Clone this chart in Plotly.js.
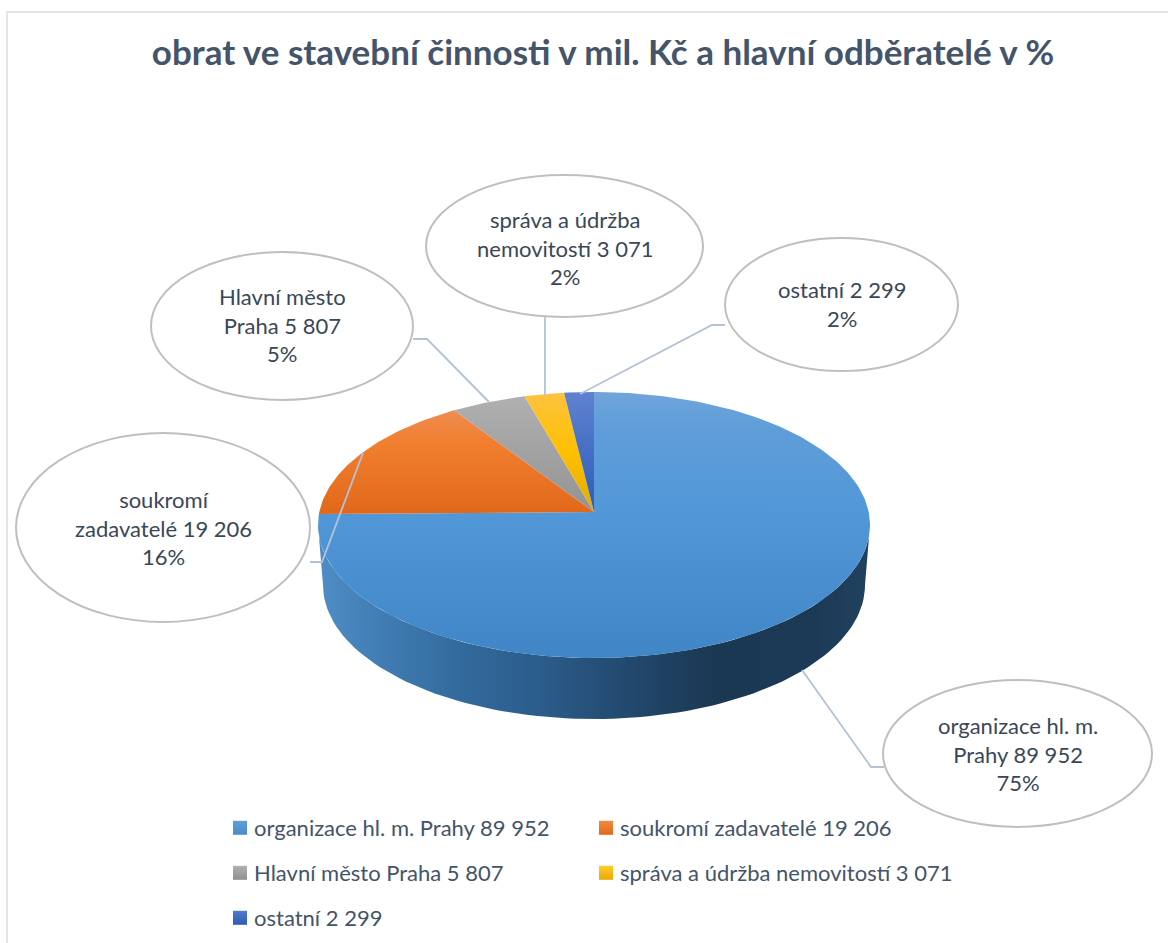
<!DOCTYPE html>
<html lang="cs">
<head>
<meta charset="utf-8">
<script src="https://cdn.plot.ly/plotly-3.0.1.min.js"></script>
<style>html,body{margin:0;padding:0;background:#fff}</style>
</head>
<body>
<div id="chart" style="width:1168px;height:943px"></div>
<script>
// ---- data ----
const categories = ['organizace hl. m. Prahy', 'soukromí zadavatelé', 'Hlavní město Praha', 'správa a údržba nemovitostí', 'ostatní'];
const values = [89952, 19206, 5807, 3071, 2299];
const valueLabels = ['89 952', '19 206', '5 807', '3 071', '2 299'];
const shareLabels = ['75%', '16%', '5%', '2%', '2%'];
const calloutLines = [
  ['organizace hl. m.', 'Prahy 89 952'],
  ['soukromí', 'zadavatelé 19 206'],
  ['Hlavní město', 'Praha 5 807'],
  ['správa a údržba', 'nemovitostí 3 071'],
  ['ostatní 2 299']
];
const titleText = 'obrat ve stavební činnosti v mil. Kč a hlavní odběratelé v %';

// ---- styling and layout geometry ----
const sliceScales = [
  [[0, '#4085c5'], [0.55, '#5298d8'], [0.86, '#5f9dd9'], [1, '#70a5db']],
  [[0, '#e1681a'], [0.7, '#f27f30'], [1, '#ee8c52']],
  [[0, '#939393'], [1, '#b0b0b0']],
  [[0, '#e0a80a'], [0.5, '#ffc000'], [1, '#fdc33f']],
  [[0, '#2b5cb8'], [1, '#5f82d0']]
];
const legendColors = [['#5fa0dc', '#4a8bc6'], ['#f38a3e', '#e2681a'], ['#b0b0b0', '#8f8f8f'], ['#ffcb2d', '#eba800'], ['#5279cc', '#2d5cb4']];
const sideScale = [[0, '#4f8dc6'], [0.1, '#427fb5'], [0.25, '#336b9e'], [0.42, '#2a5a88'], [0.55, '#234a6f'], [0.72, '#1a3852'], [0.9, '#1c3a56'], [1, '#21425f']];
const face = {cx: 594, cy: 525, rx: 276, ry: 133, apexLift: 13};
const base = {cx: 594, cy: 585, rx: 271, ry: 134};
const callouts = [
  {x0: 883, x1: 1152, y0: 680, y1: 827, leader: [[802, 670], [871, 767], [884, 767]], ty: 754},
  {x0: 16, x1: 310, y0: 433, y1: 622, leader: [[363, 453], [322, 562], [310, 562]], ty: 528},
  {x0: 151, x1: 413, y0: 252, y1: 400, leader: [[489, 402], [427, 339], [413, 339]], ty: 325},
  {x0: 426, x1: 703, y0: 175, y1: 317, leader: [[545, 396], [545, 317]], ty: 248},
  {x0: 725, x1: 958, y0: 238, y1: 371, leader: [[580, 394], [712, 325], [725, 325]], ty: 304}
];
const legendSpots = [[214, 828], [580, 828], [214, 873], [580, 873], [214, 918]];
const textColor = '#44546a';
const labelColor = '#3a4759';
const fontFamily = 'Lato, "Open Sans", sans-serif';

// ---- slice outlines come from the values: the pie circle is projected onto the tilted face ----
const total = values.reduce((a, b) => a + b, 0);
const p = face.apexLift / face.ry, shrink = Math.sqrt(1 - p * p);
function rimPoint(theta) {
  const u = Math.sin(theta), v = Math.cos(theta), d = 1 + p * v;
  return [face.cx + face.rx * u * shrink / d, face.cy - face.ry * (v + p) / d];
}
function ellipseArc(e, from, to) {
  const pts = [];
  for (let a = from; a <= to + 1e-9; a += 2) {
    const t = a * Math.PI / 180;
    pts.push([e.cx + e.rx * Math.sin(t), e.cy - e.ry * Math.cos(t)]);
  }
  return pts;
}
const traces = [];

// side wall of the big slice
const sidePts = ellipseArc(face, 90, 270).concat(ellipseArc(base, 90, 270).reverse());
traces.push({
  type: 'scatter', mode: 'lines', x: sidePts.map(q => q[0]), y: sidePts.map(q => q[1]),
  fill: 'toself', line: {width: 0}, hoverinfo: 'skip', showlegend: false,
  fillgradient: {type: 'horizontal', colorscale: sideScale}
});

// top face slices
let cum = 0;
values.forEach((val, i) => {
  const a0 = cum / total * 2 * Math.PI;
  cum += val;
  const a1 = cum / total * 2 * Math.PI;
  const n = Math.max(2, Math.ceil((a1 - a0) / 0.02));
  const xs = [face.cx], ys = [face.cy - face.apexLift];
  for (let k = 0; k <= n; k++) {
    const q = rimPoint(a0 + (a1 - a0) * k / n);
    xs.push(q[0]); ys.push(q[1]);
  }
  xs.push(face.cx); ys.push(face.cy - face.apexLift);
  traces.push({
    type: 'scatter', mode: 'lines', x: xs, y: ys, fill: 'toself', line: {width: 0},
    name: categories[i], text: categories[i] + ' ' + valueLabels[i] + ' (' + shareLabels[i] + ')',
    hoverinfo: 'text', showlegend: false,
    fillgradient: {type: 'vertical', colorscale: sliceScales[i]}
  });
});

// legend entries, each placed on its own so the two-column grid is exact
const legendKey = i => (i === 0 ? 'legend' : 'legend' + (i + 1));
categories.forEach((c, i) => {
  traces.push({
    type: 'scatter', mode: 'markers', x: [null], y: [null],
    name: c + ' ' + valueLabels[i], legend: legendKey(i), hoverinfo: 'skip',
    marker: {symbol: 'square', size: 14, color: legendColors[i][0], gradient: {type: 'vertical', color: legendColors[i][1]}, line: {width: 0}}
  });
});

const shapes = [{type: 'rect', xref: 'x', yref: 'y', x0: 7, y0: 12, x1: 1180, y1: 960, line: {color: '#e0e5ee', width: 2}, fillcolor: 'rgba(0,0,0,0)', layer: 'below'}];
const annotations = [];
callouts.forEach((c, i) => {
  const path = c.leader.map((q, k) => (k ? 'L' : 'M') + q[0] + ',' + q[1]).join(' ');
  shapes.push({type: 'path', xref: 'x', yref: 'y', path, line: {color: '#b4c2d8', width: 1.8}, layer: 'above'});
  shapes.push({type: 'circle', xref: 'x', yref: 'y', x0: c.x0, x1: c.x1, y0: c.y0, y1: c.y1, line: {color: '#bfbfbf', width: 2}, fillcolor: '#ffffff', layer: 'above'});
});
callouts.forEach((c, i) => {
  annotations.push({
    xref: 'x', yref: 'y', x: (c.x0 + c.x1) / 2, y: c.ty, showarrow: false, xanchor: 'center', yanchor: 'middle',
    text: calloutLines[i].concat([shareLabels[i]]).join('<br>'),
    font: {family: fontFamily, size: 22, color: labelColor}, align: 'center'
  });
});

const layout = {
  width: 1168, height: 943, margin: {l: 0, r: 0, t: 0, b: 0},
  paper_bgcolor: '#ffffff', plot_bgcolor: '#ffffff', showlegend: true,
  title: {text: '<b>' + titleText + '</b>', x: 603 / 1168, xanchor: 'center', y: 1 - 53 / 943, yanchor: 'middle', xref: 'paper', yref: 'paper',
          font: {family: fontFamily, size: 35, color: textColor}},
  xaxis: {range: [0, 1168], visible: false, fixedrange: true},
  yaxis: {range: [943, 0], visible: false, fixedrange: true},
  shapes, annotations
};
legendSpots.forEach((s, i) => {
  layout[legendKey(i)] = {
    orientation: 'v', xanchor: 'left', yanchor: 'middle', bgcolor: 'rgba(0,0,0,0)', borderwidth: 0,
    itemclick: false, itemdoubleclick: false, x: s[0] / 1168, y: 1 - s[1] / 943,
    font: {family: fontFamily, size: 22, color: textColor}
  };
});
Plotly.newPlot('chart', traces, layout, {displayModeBar: false, responsive: false}).then(gd => {
  // the swatches sit closer to their text than Plotly's default legend gap
  gd.querySelectorAll('.legendsymbols').forEach(g => g.setAttribute('transform', 'translate(6,0)'));
});
</script>
</body>
</html>
